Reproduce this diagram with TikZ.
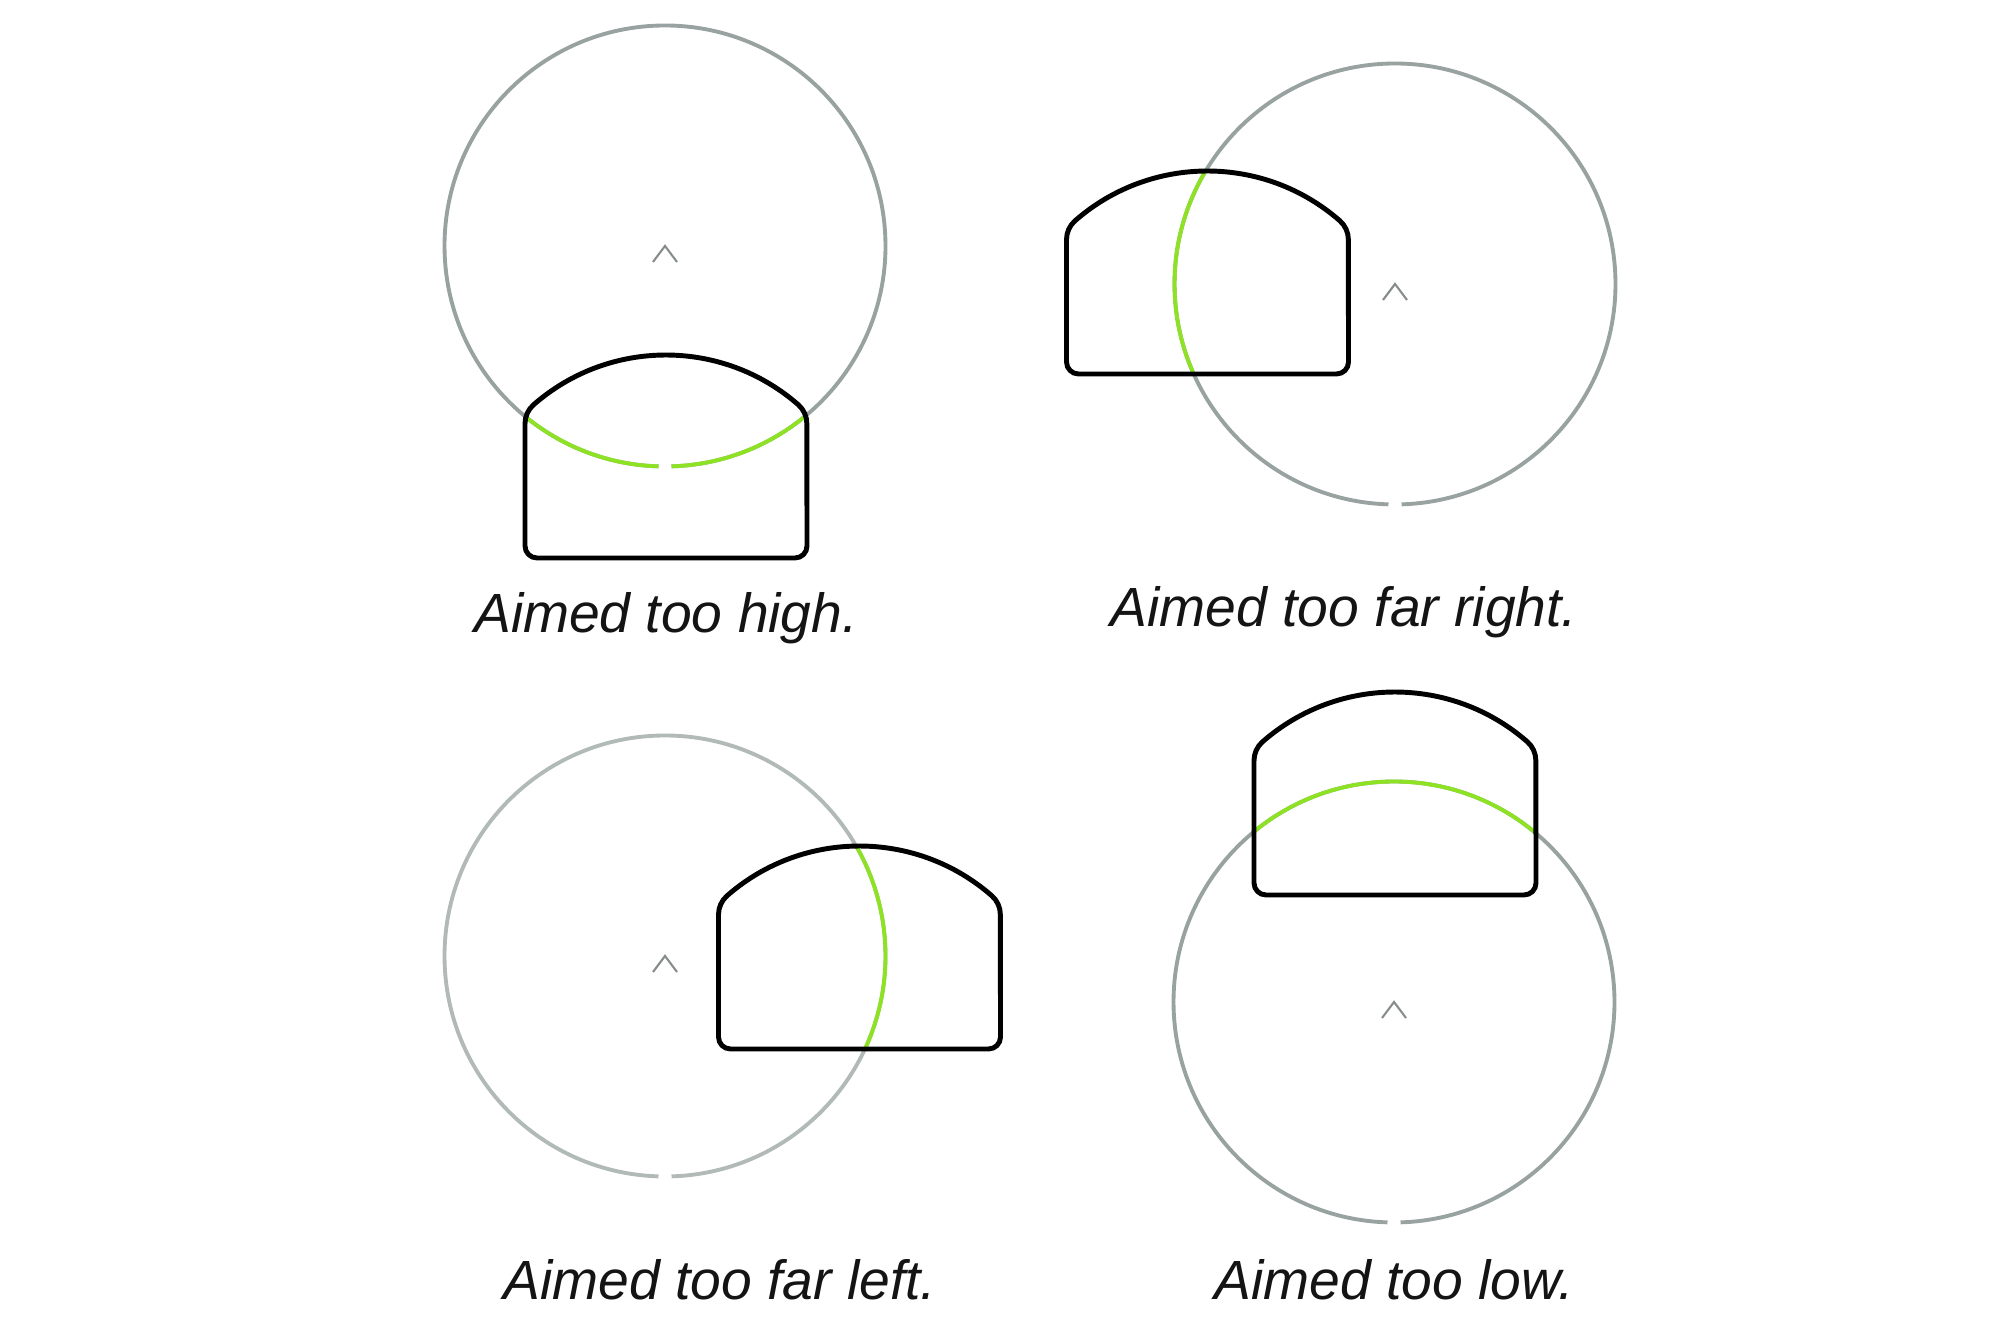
\documentclass[tikz,border=0pt]{standalone}
\usepackage{fontspec}
\setmainfont{Liberation Sans}

\definecolor{ringgray}{RGB}{152,162,160}
\definecolor{ringlight}{RGB}{178,186,184}
\definecolor{dotgreen}{RGB}{140,226,35}
\definecolor{caretgray}{RGB}{135,140,140}

% outline of the sight window, origin at the middle of its bottom edge
\newcommand{\windowpath}{(-141,12) -- (-141,134.4)
    arc[start angle=180,end angle=131.2,radius=25]
    arc[start angle=131.2,end angle=48.8,radius=201]
    arc[start angle=48.8,end angle=0,radius=25] -- (141,12)
    arc[start angle=0,end angle=-90,radius=12] -- (-129,0)
    arc[start angle=270,end angle=180,radius=12] -- cycle}

\tikzset{
    ring/.style={line width=1.1pt, draw=ringgray},
    greenring/.style={line width=1.1pt, draw=dotgreen},
    sight/.style={line width=1.4pt, draw=black},
    caret/.style={line width=0.6pt, draw=caretgray},
    caption/.style={anchor=base, font=\fontsize{15.7}{18}\selectfont\itshape, text=black!92}
}

\begin{document}
\begin{tikzpicture}[x=0.01cm,y=0.01cm]
    \useasboundingbox (0,0) rectangle (2000,1334);

    % Centres of the circles and feet of the windows
    \coordinate (c1) at (665,1088);
    \coordinate (c2) at (1395,1050);
    \coordinate (c3) at (665,378);
    \coordinate (c4) at (1394,332);
    \coordinate (w1) at (666,776);
    \coordinate (w2) at (1207.5,960);
    \coordinate (w3) at (859.5,285);
    \coordinate (w4) at (1395,439);

    % Circles, with a small gap at the bottom
    \draw[ring] (c1) ++(-88.3:220.5) arc[start angle=-88.3,end angle=268.3,radius=220.5];
    \draw[ring] (c2) ++(-88.3:220.5) arc[start angle=-88.3,end angle=268.3,radius=220.5];
    \draw[ring, draw=ringlight] (c3) ++(-88.3:220.5) arc[start angle=-88.3,end angle=268.3,radius=220.5];
    \draw[ring] (c4) ++(-88.3:220.5) arc[start angle=-88.3,end angle=268.3,radius=220.5];

    % Green part of each circle, inside the window
    \begin{scope}
        \clip[shift={(w1)}] \windowpath;
        \draw[greenring] (c1) ++(-88.3:220.5) arc[start angle=-88.3,end angle=268.3,radius=220.5];
    \end{scope}
    \begin{scope}
        \clip[shift={(w2)}] \windowpath;
        \draw[greenring] (c2) ++(-88.3:220.5) arc[start angle=-88.3,end angle=268.3,radius=220.5];
    \end{scope}
    \begin{scope}
        \clip[shift={(w3)}] \windowpath;
        \draw[greenring] (c3) ++(-88.3:220.5) arc[start angle=-88.3,end angle=268.3,radius=220.5];
    \end{scope}
    \begin{scope}
        \clip[shift={(w4)}] \windowpath;
        \draw[greenring] (c4) ++(-88.3:220.5) arc[start angle=-88.3,end angle=268.3,radius=220.5];
    \end{scope}

    % Windows
    \draw[sight, shift={(w1)}] \windowpath;
    \draw[sight, shift={(w2)}] \windowpath;
    \draw[sight, shift={(w3)}] \windowpath;
    \draw[sight, shift={(w4)}] \windowpath;

    % Carets at the centres
    \draw[caret] (c1) ++(-12,-16) -- (c1) -- ++(12,-16);
    \draw[caret] (c2) ++(-12,-16) -- (c2) -- ++(12,-16);
    \draw[caret] (c3) ++(-12,-16) -- (c3) -- ++(12,-16);
    \draw[caret] (c4) ++(-12,-16) -- (c4) -- ++(12,-16);

    % Captions
    \node[caption] (high) at (666,701) {Aimed too high.};
    \node[caption] (right) at (1344,707) {Aimed too far right.};
    \node[caption] (left) at (720,34) {Aimed too far left.};
    \node[caption] (low) at (1394,34) {Aimed too low.};
\end{tikzpicture}
\end{document}
